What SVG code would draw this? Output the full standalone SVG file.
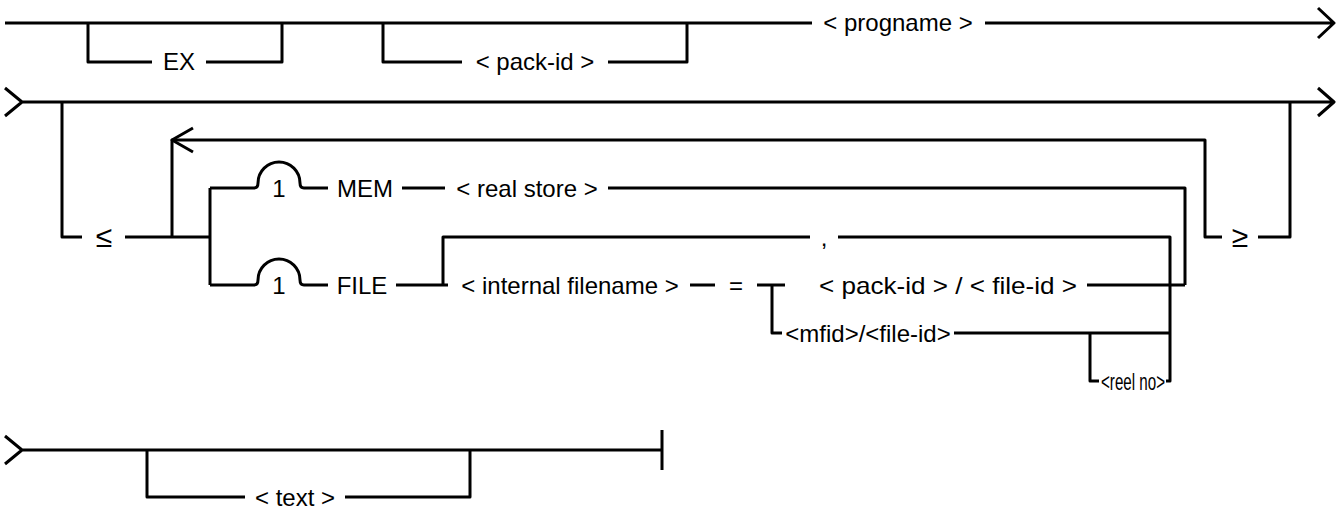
<svg xmlns="http://www.w3.org/2000/svg" width="1337" height="521" viewBox="0 0 1337 521">
<style>
.l{fill:none;stroke:#000;stroke-width:3;stroke-linecap:butt;stroke-linejoin:round}
text{font-family:"Liberation Sans",Arial,sans-serif;font-size:24px;fill:#000;text-anchor:middle}
.rel{font-size:30px}
</style>
<rect width="1337" height="521" fill="#fff"/>
<g id="connectors">
<!-- row 1 -->
<path class="l" d="M5,23 H812 M985,23 H1333 M1318,8 L1334,23 L1318,38"/>
<path class="l" d="M88,23 V62 H152 M206,62 H282 V23"/>
<path class="l" d="M383,23 V62 H462 M608,62 H687 V23"/>
<!-- row 2 -->
<path class="l" d="M5,88 L22,102 L5,116 M22,102 H1333 M1318,88 L1334,102 L1318,116"/>
<path class="l" d="M62,102 V237 H82 M125,237 H210"/>
<path class="l" d="M172,237 V140 H1205 V237 H1222 M1258,237 H1290 V102"/>
<path class="l" d="M193,128 L172,140 L193,152"/>
<path class="l" d="M210,188 V285"/>
<!-- MEM branch -->
<path class="l" d="M210,188 H254 C257,188 258,186 258,183 A21,21 0 0 1 300,183 C300,186 301,188 304,188 H328 M402,188 H445 M608,188 H1185 V285"/>
<!-- FILE branch -->
<path class="l" d="M210,285 H254 C257,285 258,283 258,280 A21,21 0 0 1 300,280 C300,283 301,285 304,285 H328 M396,285 H448"/>
<path class="l" d="M443,285 V237 H810 M838,237 H1170 V381 H1166"/>
<path class="l" d="M690,285 H715 M757,285 H785 M772,285 V333 H782"/>
<path class="l" d="M1087,285 H1185"/>
<path class="l" d="M954,333 H1170 M1090,333 V381 H1099"/>
<!-- row 3 -->
<path class="l" d="M5,436 L22,450 L5,464 M22,450 H662 M662,430 V470"/>
<path class="l" d="M147,450 V497 H245 M345,497 H470 V450"/>
</g>
<g id="n-ex"><text x="179" y="70">EX</text></g>
<g id="n-packid1"><text x="535" y="70">&lt; pack-id &gt;</text></g>
<g id="n-progname"><text x="898" y="31">&lt; progname &gt;</text></g>
<g id="n-le"><text class="rel" x="104" y="247">≤</text></g>
<g id="n-one1"><text x="279" y="197">1</text></g>
<g id="n-mem"><text x="365" y="197">MEM</text></g>
<g id="n-realstore"><text x="527" y="197">&lt; real store &gt;</text></g>
<g id="n-one2"><text x="279" y="294">1</text></g>
<g id="n-file"><text x="362" y="294">FILE</text></g>
<g id="n-internal"><text x="570" y="294">&lt; internal filename &gt;</text></g>
<g id="n-eq"><text x="736" y="294">=</text></g>
<g id="n-packfile"><text x="948" y="294" textLength="258" lengthAdjust="spacingAndGlyphs">&lt; pack-id &gt; / &lt; file-id &gt;</text></g>
<g id="n-comma"><text x="824" y="246">,</text></g>
<g id="n-mfid"><text x="868" y="342">&lt;mfid&gt;/&lt;file-id&gt;</text></g>
<g id="n-reelno"><text x="1133" y="390" textLength="64" lengthAdjust="spacingAndGlyphs">&lt;reel no&gt;</text></g>
<g id="n-ge"><text class="rel" x="1240" y="247">≥</text></g>
<g id="n-text"><text x="295" y="506">&lt; text &gt;</text></g>
</svg>
